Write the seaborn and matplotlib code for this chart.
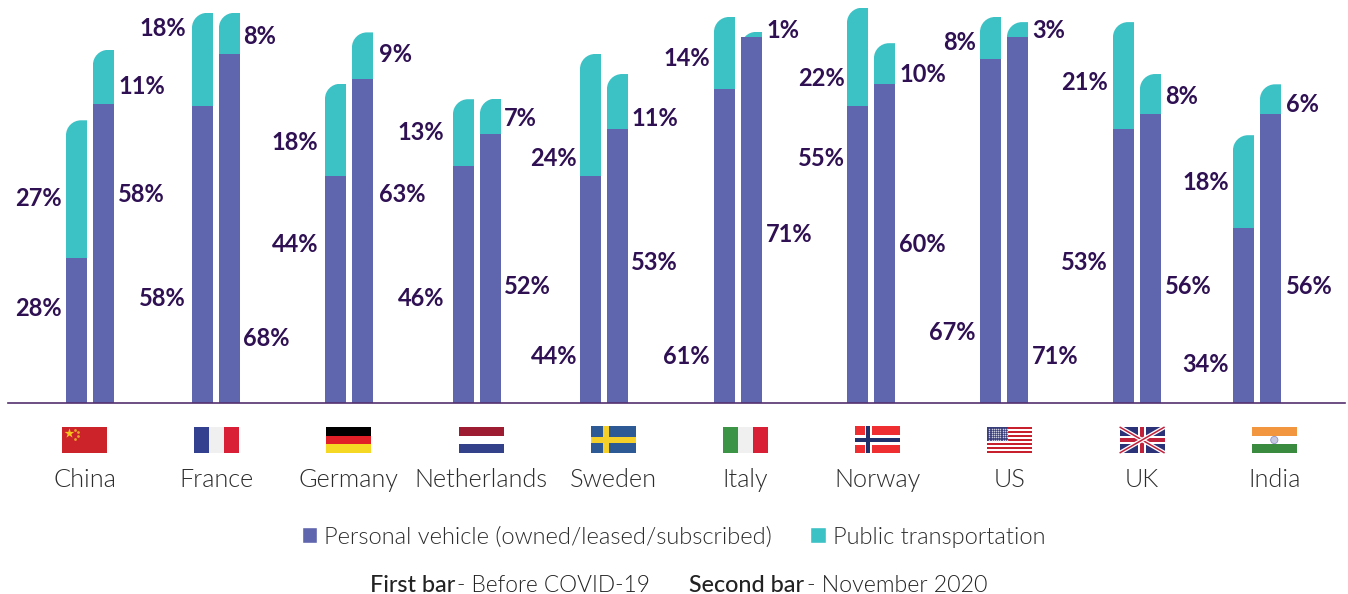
import matplotlib
matplotlib.use("Agg")
import matplotlib.pyplot as plt
import seaborn as sns
import pandas as pd
import numpy as np
from matplotlib.patches import Rectangle, Patch, Circle
from matplotlib.path import Path

# ---- data ----
countries = ["China", "France", "Germany", "Netherlands", "Sweden", "Italy", "Norway", "US", "UK", "India"]
personal_before = [28.2, 57.8, 44.2, 46.1, 44.2, 61.1, 57.8, 66.9, 53.3, 34.0]
public_before = [26.8, 18.1, 17.9, 13.0, 23.7, 14.0, 19.1, 8.2, 20.8, 18.1]
personal_nov = [58.2, 67.9, 63.0, 52.3, 53.3, 71.2, 62.0, 71.2, 56.2, 56.2]
public_nov = [10.5, 8.0, 9.1, 6.9, 10.7, 1.0, 8.0, 2.9, 7.8, 5.8]
label_personal_before = [28, 58, 44, 46, 44, 61, 55, 67, 53, 34]
label_public_before = [27, 18, 18, 13, 24, 14, 22, 8, 21, 18]
label_personal_nov = [58, 68, 63, 52, 53, 71, 60, 71, 56, 56]
label_public_nov = [11, 8, 9, 7, 11, 1, 10, 3, 8, 6]
series_names = ["Personal vehicle (owned/leased/subscribed)", "Public transportation"]
periods = ["Before COVID-19", "November 2020"]

# ---- layout (pixels in the 1348x594 canvas) ----
W, H = 1348, 594
BASE_Y, AX_L, AX_R = 403, 8, 1345
PX_PER_UNIT, CAT_STEP, CAT0 = 5.14, 132.2, 84.5
pair_center_px = [90, 216, 349, 477, 604, 738, 871, 1004, 1137, 1257]
label_right_px = [62, 186, 318, 444, 577, 710, 845, 976, 1108, 1229]
label_left_px = [118, 243, 379, 504, 631, 766, 899, 1032, 1165, 1286]
ypx_personal_before = [306, 296, 243, 296, 354, 354, 156, 331, 261, 363]
ypx_public_before = [197, 26, 140, 131, 156, 56, 76, 40, 80, 181]
ypx_personal_nov = [193, 336, 193, 284, 261, 233, 243, 354, 284, 284]
ypx_public_nov = [85, 34, 53, 117, 117, 29, 72, 28, 94, 102]

PURPLE, TEAL, INK, GREY, LINE = "#6066ae", "#3cc1c5", "#2e1053", "#2c2c2c", "#55306f"
FONT = "Lato"

sns.set_theme(style="white")
plt.rcParams["font.family"] = [FONT, "DejaVu Sans"]

fig = plt.figure(figsize=(W / 100, H / 100), dpi=100, facecolor="white")
ax = fig.add_axes([AX_L / W, (H - BASE_Y) / H, (AX_R - AX_L) / W, BASE_Y / H])

df = pd.DataFrame({
    "country": countries * 2,
    "period": [periods[0]] * 10 + [periods[1]] * 10,
    "personal": personal_before + personal_nov,
    "public": public_before + public_nov,
})
df["total"] = df["personal"] + df["public"]

kw = dict(data=df, x="country", hue="period", order=countries, hue_order=periods,
          width=0.408, gap=0.22, saturation=1, legend=False, ax=ax, errorbar=None)
sns.barplot(y="total", palette=[TEAL, TEAL], **kw)
n_top = len(ax.patches)
sns.barplot(y="personal", palette=[PURPLE, PURPLE], **kw)
for p in ax.patches:
    p.set_linewidth(0)

ax.set_xlim((AX_L - CAT0) / CAT_STEP, (AX_R - CAT0) / CAT_STEP)
ax.set_ylim(0, BASE_Y / PX_PER_UNIT)
ax.set_xlabel("")
ax.set_ylabel("")
ax.set_yticks([])
sns.despine(ax=ax, left=True)
ax.spines["bottom"].set_color(LINE)
ax.spines["bottom"].set_linewidth(1.2)
ax.tick_params(axis="x", length=0, pad=46.5, labelsize=18.2, labelcolor=GREY)
for t in ax.get_xticklabels():
    t.set_fontweight(300)

# move each pair to its place and round the top-left corner of the upper segment
for idx, p in enumerate(ax.patches):
    i = int(round(p.get_x() + p.get_width() / 2))
    p.set_x(p.get_x() + (pair_center_px[i] - (CAT0 + CAT_STEP * i)) / CAT_STEP)
    if idx < n_top:
        x0, w, h = p.get_x(), p.get_width(), p.get_height()
        rx, ry = 15 / CAT_STEP, 15 / PX_PER_UNIT
        k = 0.5523
        verts = [(x0, 0), (x0, h - ry), (x0, h - ry + k * ry), (x0 + rx - k * rx, h), (x0 + rx, h),
                 (x0 + w, h), (x0 + w, 0), (x0, 0)]
        codes = [Path.MOVETO, Path.LINETO, Path.CURVE4, Path.CURVE4, Path.CURVE4,
                 Path.LINETO, Path.LINETO, Path.CLOSEPOLY]
        p.set_clip_path(Path(verts, codes), ax.transData)

# value labels
def y_from_px(py):
    return (BASE_Y - py - 2) / PX_PER_UNIT

def x_from_px(px):
    return (px - CAT0) / CAT_STEP

lab = dict(color=INK, fontsize=17, fontweight="bold", va="center", clip_on=False)
for i in range(10):
    xl = x_from_px(label_right_px[i])
    xr = x_from_px(label_left_px[i])
    ax.text(xl, y_from_px(ypx_personal_before[i]), f"{label_personal_before[i]}%", ha="right", **lab)
    ax.text(xl, y_from_px(ypx_public_before[i]), f"{label_public_before[i]}%", ha="right", **lab)
    ax.text(xr, y_from_px(ypx_personal_nov[i]), f"{label_personal_nov[i]}%", ha="left", **lab)
    ax.text(xr, y_from_px(ypx_public_nov[i]), f"{label_public_nov[i]}%", ha="left", **lab)

# overlay in canvas pixels for the flags and the footer
ov = fig.add_axes([0, 0, 1, 1], zorder=5)
ov.set_xlim(0, W)
ov.set_ylim(H, 0)
ov.axis("off")
ov.patch.set_alpha(0)

def rect(x, y, w, h, c):
    ov.add_patch(Rectangle((x, y), w, h, facecolor=c, edgecolor="none", linewidth=0))

FW, FH, FY = 45, 26, 427
def stripes_v(x, cols):
    for j, c in enumerate(cols):
        rect(x + j * FW / 3, FY, FW / 3, FH, c)
def stripes_h(x, cols):
    for j, c in enumerate(cols):
        rect(x, FY + j * FH / 3, FW, FH / 3, c)

def flag(name, x):
    if name == "China":
        rect(x, FY, FW, FH, "#cc2229")
        ov.scatter([x + 7], [FY + 6], marker="*", s=55, color="#f7c41f", linewidths=0)
        ov.scatter([x + 13, x + 16, x + 16, x + 13], [FY + 2.5, FY + 5, FY + 9, FY + 11.5],
                   marker="o", s=4, color="#e8a62a", linewidths=0)
    elif name == "France":
        stripes_v(x, ["#33408f", "#f0f0f0", "#d91f36"])
    elif name == "Germany":
        stripes_h(x, ["#000000", "#e02026", "#f5d823"])
    elif name == "Netherlands":
        stripes_h(x, ["#9d1c32", "#ffffff", "#33418a"])
    elif name == "Sweden":
        rect(x, FY - 1, FW, FH + 1, "#2d5a94")
        rect(x + 12, FY - 1, 6, FH + 1, "#f5d02a")
        rect(x, FY + 10, FW, 6, "#f5d02a")
    elif name == "Italy":
        stripes_v(x, ["#3c9447", "#f0f0f0", "#d91f36"])
    elif name == "Norway":
        rect(x, FY - 1, FW, FH + 1, "#ee2e30")
        rect(x + 9.7, FY - 1, 6.6, FH + 1, "#ffffff")
        rect(x, FY + 8, FW, 10, "#ffffff")
        rect(x + 11, FY - 1, 4, FH + 1, "#20306b")
        rect(x, FY + 10.7, FW, 4.3, "#20306b")
    elif name == "US":
        rect(x, FY, FW, FH, "#ffffff")
        for j in range(0, 13, 2):
            rect(x, FY + j * FH / 13, FW, FH / 13, "#c8202c")
        rect(x, FY, 21, 14, "#3a3f7a")
        xs, ys = np.meshgrid(x + np.arange(2, 21, 2.2), FY + np.arange(1.5, 14, 2.2))
        ov.scatter(xs.ravel(), ys.ravel(), marker="o", s=1.2, color="#c9cbe0", linewidths=0)
    elif name == "UK":
        rect(x, FY, FW, FH, "#2b3278")
        for a, b in [((x, FY), (x + FW, FY + FH)), ((x, FY + FH), (x + FW, FY))]:
            ov.plot([a[0], b[0]], [a[1], b[1]], color="#ffffff", lw=3, solid_capstyle="butt")
            ov.plot([a[0], b[0]], [a[1], b[1]], color="#c1203a", lw=1.1, solid_capstyle="butt")
        rect(x + 18.5, FY, 8, FH, "#ffffff")
        rect(x, FY + 9, FW, 8, "#ffffff")
        rect(x + 20.5, FY, 4, FH, "#c1203a")
        rect(x, FY + 11, FW, 4, "#c1203a")
    elif name == "India":
        stripes_h(x, ["#f29640", "#ffffff", "#3a8a40"])
        ov.add_patch(Circle((x + FW / 2, FY + FH / 2), 3.6, facecolor="#c6c8e2", edgecolor="#8f92c4", linewidth=0.6))

for i, c in enumerate(countries):
    flag(c, CAT0 + CAT_STEP * i - FW / 2)

# legend
handles = [Patch(facecolor=PURPLE, label=series_names[0]), Patch(facecolor=TEAL, label=series_names[1])]
fig.legend(handles=handles, ncol=2, loc="center", bbox_to_anchor=(673.5 / W, 1 - 537 / H), frameon=False,
           fontsize=17, handlelength=0.65, handleheight=0.65, handletextpad=0.3, columnspacing=1.63,
           labelcolor=GREY, borderpad=0)
for t in fig.legends[0].get_texts():
    t.set_fontweight(300)

# footer
foot = dict(va="center", color="#222222")
ov.text(370, 585, "First bar", fontweight="medium", fontsize=16.8, **foot)
ov.text(457, 585, f"- {periods[0]}", fontweight=300, fontsize=16.3, **foot)
ov.text(689, 585, "Second bar", fontweight="medium", fontsize=16.8, **foot)
ov.text(807, 585, f"- {periods[1]}", fontweight=300, fontsize=16.7, **foot)

fig.savefig("out.png", dpi=100, facecolor="white")
